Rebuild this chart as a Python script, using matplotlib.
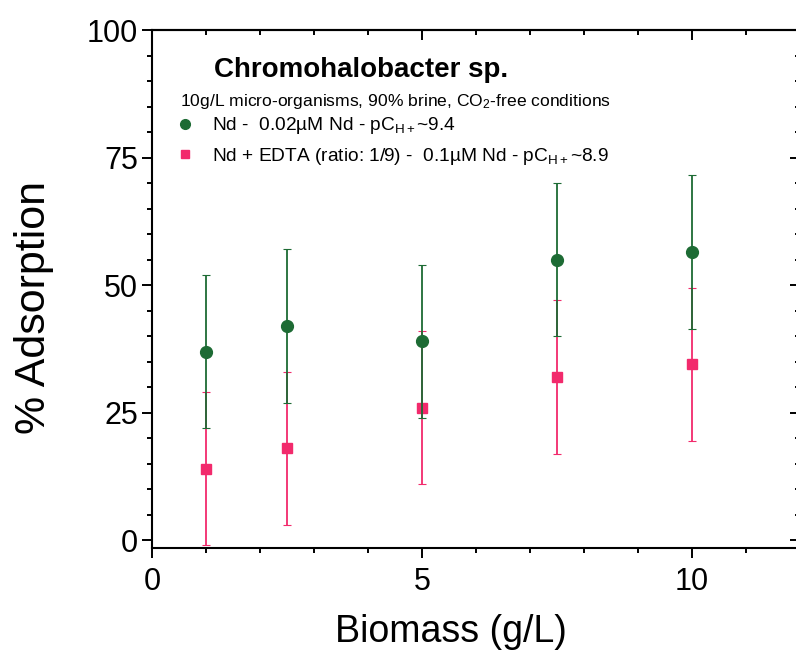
import matplotlib
matplotlib.use("Agg")
import matplotlib.pyplot as plt
from matplotlib.ticker import MultipleLocator, NullFormatter
from matplotlib.lines import Line2D

plt.rcParams['font.family'] = ['Liberation Sans', 'DejaVu Sans']
plt.rcParams['mathtext.fontset'] = 'custom'
plt.rcParams['mathtext.rm'] = 'Liberation Sans'
plt.rcParams['mathtext.it'] = 'Liberation Sans'

# Biomass (g/L)
biomass = [1, 2.5, 5, 7.5, 10]

# Nd - 0.02µM Nd
nd_ads = [37, 42, 39, 55, 56.5]
nd_err = [15, 15, 15, 15, 15]

# Nd + EDTA (ratio 1/9) - 0.1µM Nd
edta_ads = [14, 18, 26, 32, 34.5]
edta_err = [15, 15, 15, 15, 15]

GREEN = "#1d6b34"
PINK = "#f22a6c"

fig = plt.figure(figsize=(7.96, 6.56), dpi=100)
ax = fig.add_axes([152 / 796, 1 - 548 / 656, 648 / 796, 518 / 656])

g = ax.errorbar(biomass, nd_ads, yerr=nd_err, fmt="o", color=GREEN, ms=8.5,
                ecolor=GREEN, elinewidth=1.3, capsize=3, capthick=0.8, zorder=3)
p = ax.errorbar(biomass, edta_ads, yerr=edta_err, fmt="s", color=PINK, ms=7.5,
                ecolor=PINK, elinewidth=1.3, capsize=3, capthick=0.8, zorder=2)
for cont in (g, p):
    for cap in cont[1]:
        cap.set_color("#b8b8b8")

ax.set_xlim(0, 12)
ax.set_ylim(-1.5, 100)
ax.xaxis.set_major_locator(MultipleLocator(5))
ax.xaxis.set_minor_locator(MultipleLocator(1))
ax.set_yticks([0, 25, 50, 75, 100])
ax.yaxis.set_minor_locator(MultipleLocator(5))

ax.tick_params(which="both", direction="out", width=1.4)
ax.tick_params(which="major", length=7)
ax.tick_params(which="minor", length=3.5)
ax.tick_params(axis="y", labelsize=22, pad=3)
ax.tick_params(axis="x", labelsize=22, pad=7)

# inward ticks on the top and right frame
top = ax.secondary_xaxis("top")
top.xaxis.set_major_locator(MultipleLocator(5))
top.xaxis.set_minor_locator(MultipleLocator(1))
top.xaxis.set_major_formatter(NullFormatter())
top.tick_params(which="both", direction="in", width=1.4)
top.tick_params(which="major", length=7)
top.tick_params(which="minor", length=3.5)
right = ax.secondary_yaxis("right")
right.set_yticks([0, 25, 50, 75, 100])
right.yaxis.set_minor_locator(MultipleLocator(5))
right.yaxis.set_major_formatter(NullFormatter())
right.tick_params(which="both", direction="in", width=1.4)
right.tick_params(which="major", length=7)
right.tick_params(which="minor", length=3.5)

for s in list(ax.spines.values()) + [top.spines["top"], right.spines["right"]]:
    s.set_linewidth(1.5)

ax.set_xlabel("Biomass (g/L)", fontsize=27)
ax.xaxis.set_label_coords(0.461, -0.128)
ax.set_ylabel("% Adsorption", fontsize=31)
ax.yaxis.set_label_coords(-0.152, 0.465)

ax.text(0.095, 0.923, "Chromohalobacter sp.", transform=ax.transAxes,
        fontsize=20, fontweight="bold", va="center", ha="left")
ax.text(0.043, 0.862, "10g/L micro-organisms, 90% brine, CO$_{2}$-free conditions",
        transform=ax.transAxes, fontsize=12.6, va="center", ha="left")

handles = [Line2D([], [], ls="none", marker="o", color=GREEN, ms=7),
           Line2D([], [], ls="none", marker="s", color=PINK, ms=6)]
labels = ["Nd -  0.02µM Nd - pC$_{\\mathrm{H+}}$~9.4",
          "Nd + EDTA (ratio: 1/9) -  0.1µM Nd - pC$_{\\mathrm{H+}}$~8.9"]
ax.legend(handles, labels, loc="upper left", bbox_to_anchor=(0.025, 0.85),
          frameon=False, fontsize=13.8, handletextpad=0.9, handlelength=1.0,
          labelspacing=0.5, borderaxespad=0)

fig.savefig("out.png", dpi=100)
